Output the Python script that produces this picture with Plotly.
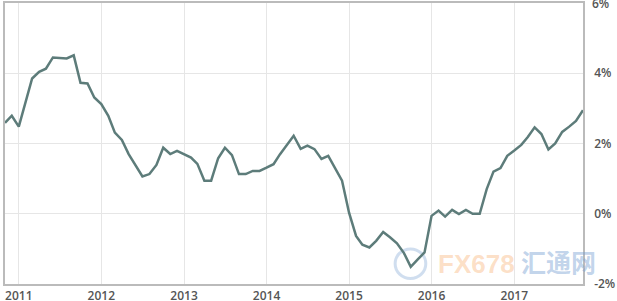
import plotly.graph_objects as go
import pandas as pd

# Monthly values (percent), Nov 2010 - Nov 2017
months = pd.date_range("2010-11-01", "2017-11-01", freq="MS")
values = [
    2.59, 2.79, 2.48, 3.20, 3.85, 4.04, 4.13, 4.45, 4.44, 4.42,
    4.51, 3.73, 3.71, 3.31, 3.12, 2.79, 2.31, 2.10, 1.70, 1.36,
    1.06, 1.13, 1.39, 1.88, 1.70, 1.79, 1.70, 1.60, 1.42, 0.94,
    0.94, 1.58, 1.88, 1.67, 1.13, 1.13, 1.22, 1.22, 1.31, 1.41,
    1.69, 1.96, 2.22, 1.85, 1.94, 1.84, 1.56, 1.65, 1.30, 0.94,
    0.03, -0.63, -0.88, -0.96, -0.77, -0.52, -0.67, -0.84, -1.12, -1.51,
    -1.30, -1.10, -0.06, 0.09, -0.08, 0.11, -0.01, 0.11, 0.00, 0.00,
    0.70, 1.20, 1.30, 1.65, 1.80, 1.96, 2.18, 2.46, 2.27, 1.83,
    2.00, 2.33, 2.48, 2.64, 2.95,
]
y_ticks = [-2, 0, 2, 4]
y_tick_labels = ["-2%", "0%", "2%", "4%"]
top_tick = 6
top_tick_label = "6%"

axis_font = dict(family="Open Sans", size=12, color="#555555", weight=600)

fig = go.Figure()
fig.add_trace(go.Scatter(
    x=list(months), y=values, mode="lines",
    line=dict(color="#5d7c7a", width=2.5),
    hoverinfo="skip", showlegend=False,
))

# Top tick label (drawn as annotation so it is not dropped at the edge)
fig.add_annotation(text=top_tick_label, xref="paper", x=1, yref="y", y=top_tick,
                   xanchor="left", yanchor="middle", xshift=7, showarrow=False,
                   font=axis_font)

# Watermark logo + text
fig.add_shape(type="circle", xref="paper", yref="paper",
              x0=0.675, x1=0.728, y0=0.02, y1=0.125,
              line=dict(color="rgba(120,160,210,0.35)", width=3),
              fillcolor="rgba(0,0,0,0)", layer="below")
fig.add_annotation(text="FX678", xref="paper", yref="paper", x=0.745, y=0.01,
                   xanchor="left", yanchor="bottom", showarrow=False,
                   font=dict(family="Liberation Sans", size=26,
                             color="rgba(250,185,130,0.45)", weight=700))
fig.add_annotation(text="汇通网", xref="paper", yref="paper", x=0.889, y=0.01,
                   xanchor="left", yanchor="bottom", showarrow=False,
                   font=dict(family="Noto Sans CJK SC", size=25,
                             color="rgba(120,160,210,0.45)", weight=700))

fig.update_layout(
    width=617, height=301,
    margin=dict(l=5, r=34, t=3, b=17),
    paper_bgcolor="white", plot_bgcolor="white",
    xaxis=dict(
        type="date", automargin=False,
        range=["2010-11-01", "2017-11-01"],
        tick0="2011-01-01", dtick="M12", tickformat="%Y",
        showgrid=True, gridcolor="#e6e6e6", gridwidth=1,
        showline=True, linecolor="#bbbbbb", linewidth=1.5, mirror=True,
        ticks="", tickfont=axis_font, zeroline=False,
    ),
    yaxis=dict(
        side="right", automargin=False,
        range=[-2, 6],
        tickvals=y_ticks + [top_tick], ticktext=y_tick_labels + [""],
        showgrid=True, gridcolor="#e6e6e6", gridwidth=1,
        showline=True, linecolor="#bbbbbb", linewidth=1.5, mirror=True,
        ticks="", ticklabelstandoff=7, tickfont=axis_font, zeroline=False,
    ),
)

fig.write_html("out.html")
